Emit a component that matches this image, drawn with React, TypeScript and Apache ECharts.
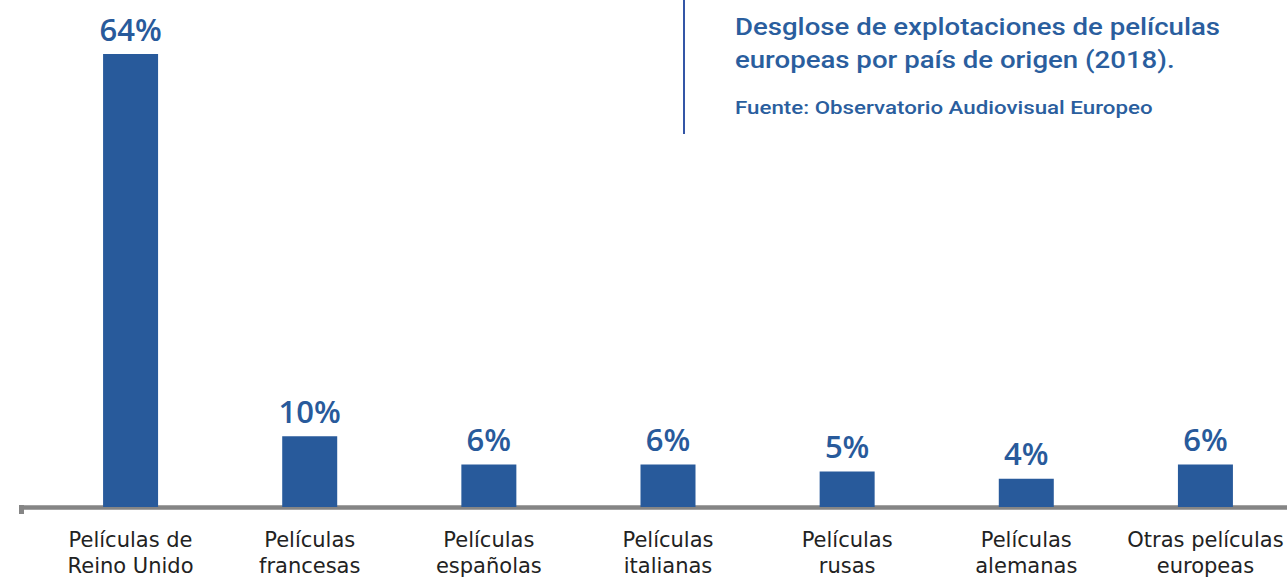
import React, { useEffect, useRef } from "react";
import * as echarts from "echarts";

const categories = [
  "Películas de\nReino Unido",
  "Películas\nfrancesas",
  "Películas\nespañolas",
  "Películas\nitalianas",
  "Películas\nrusas",
  "Películas\nalemanas",
  "Otras películas\neuropeas",
];
const values = [64, 10, 6, 6, 5, 4, 6];
const titleLines = ["Desglose de explotaciones de películas", "europeas por país de origen (2018)."];
const sourceText = "Fuente: Observatorio Audiovisual Europeo";

const BLUE = "#285a9b";
const TITLE_BLUE = "#2a5e9e";

export default function App() {
  const ref = useRef<HTMLDivElement>(null);
  useEffect(() => {
    if (!ref.current) return;
    const chart = echarts.init(ref.current, null, { renderer: "svg" });
    chart.setOption({
      animation: false,
      backgroundColor: "#ffffff",
      grid: { left: 41, width: 1254, top: 54, height: 453, outerBoundsMode: "none", containLabel: false },
      xAxis: {
        type: "category",
        data: categories,
        axisLine: { show: false },
        axisTick: { show: false },
        axisLabel: {
          color: "#222222",
          fontFamily: "DejaVu Sans",
          fontSize: 21,
          lineHeight: 26,
          margin: 20,
          interval: 0,
        },
      },
      yAxis: {
        type: "value",
        min: 0,
        max: 64,
        show: false,
        splitLine: { show: false },
      },
      series: [
        {
          type: "bar",
          data: values,
          barWidth: 55,
          itemStyle: { color: BLUE },
          label: {
            show: true,
            position: "top",
            distance: 10,
            formatter: "{c}%",
            color: BLUE,
            fontFamily: "Open Sans",
            fontWeight: 600,
            fontSize: 31,
          },
        },
      ],
      graphic: [
        {
          type: "line",
          shape: { x1: 19, y1: 507.5, x2: 1300, y2: 507.5 },
          style: { stroke: "#858585", lineWidth: 4.5 },
        },
        {
          type: "line",
          shape: { x1: 21.5, y1: 505, x2: 21.5, y2: 514 },
          style: { stroke: "#858585", lineWidth: 5 },
        },
        {
          type: "line",
          shape: { x1: 684, y1: 0, x2: 684, y2: 134 },
          style: { stroke: "#3456a6", lineWidth: 2 },
        },
        {
          type: "text",
          x: 735,
          y: 10,
          scaleX: 1.2,
          style: {
            text: titleLines.join("\n"),
            fill: TITLE_BLUE,
            font: "500 23px Roboto",
            lineHeight: 33,
          },
        },
        {
          type: "text",
          x: 735,
          y: 99,
          scaleX: 1.24,
          style: {
            text: sourceText,
            fill: TITLE_BLUE,
            font: "500 18px Roboto",
          },
        },
      ],
    });
    return () => chart.dispose();
  }, []);
  return (
    <div
      ref={ref}
      style={{ position: "fixed", left: 0, top: 0, width: 1300, height: 579, background: "#ffffff" }}
    />
  );
}
